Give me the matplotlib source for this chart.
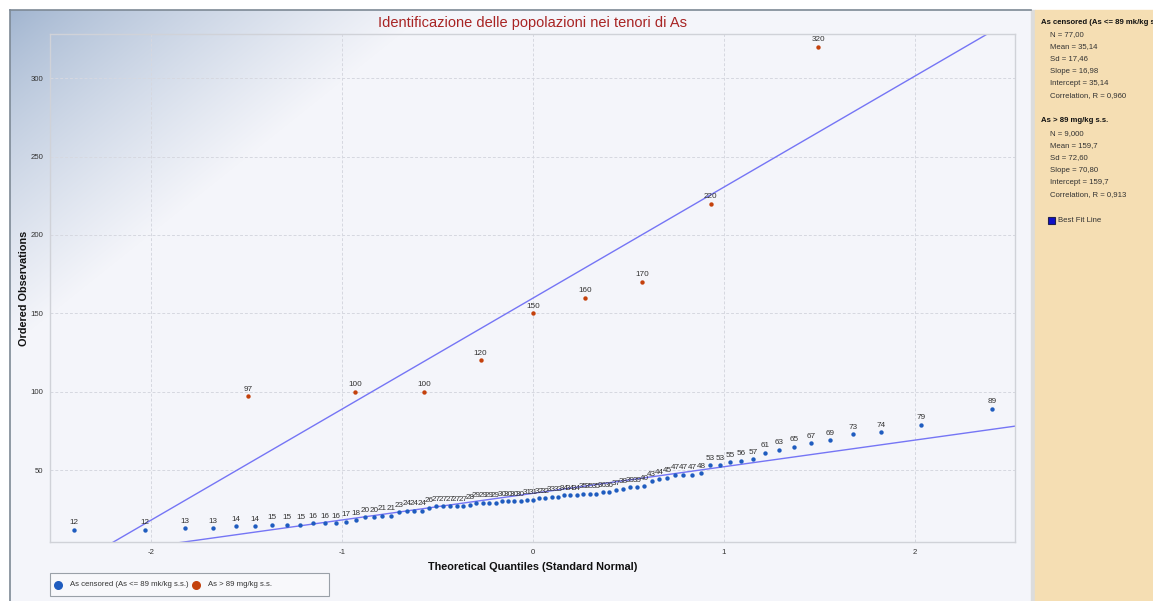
import matplotlib.pyplot as plt
import numpy as np
from matplotlib.patches import Rectangle
from statistics import NormalDist

plt.rcParams["font.family"] = ["Liberation Sans", "DejaVu Sans"]
plt.rcParams["axes.unicode_minus"] = False

# ---------------------------------------------
# Daten: As-Gehalte, sortiert, zwei Populationen
# ---------------------------------------------
as_low = [12, 12, 13, 13, 14, 14, 15, 15, 15, 16, 16, 16, 17, 18, 20, 20, 21, 21,
          23, 24, 24, 24, 26, 27, 27, 27, 27, 27,
          28, 29, 29, 29, 29, 30, 30, 30, 30, 31, 31, 32, 32, 33, 33, 34, 34, 34,
          35, 35, 35, 36, 36, 37, 38, 39, 39,
          40, 43, 44, 45, 47, 47, 47, 48, 53, 53, 55, 56, 57, 61, 63, 65, 67, 69,
          73, 74, 79, 89]
as_high = [97, 100, 100, 120, 150, 160, 170, 220, 320]

low_label = "As censored (As <= 89 mk/kg s.s.)"
high_label = "As > 89 mg/kg s.s."

# Regressionsgeraden (Slope, Intercept) aus der Statistik
low_fit = (16.98, 35.14)
high_fit = (70.80, 159.7)

low_stats = ["N = 77,00", "Mean = 35,14", "Sd = 17,46", "Slope = 16,98",
             "Intercept = 35,14", "Correlation, R = 0,960"]
high_stats = ["N = 9,000", "Mean = 159,7", "Sd = 72,60", "Slope = 70,80",
              "Intercept = 159,7", "Correlation, R = 0,913"]

x_ticks = [-2, -1, 0, 1, 2]
y_ticks = [50, 100, 150, 200, 250, 300]

BLUE = "#1f5cbf"
RED = "#c4410c"
LINE = "#7575f5"


def blom_quantiles(n):
    nd = NormalDist()
    return [nd.inv_cdf((i - 0.375) / (n + 0.25)) for i in range(1, n + 1)]


W, H = 1153, 601
fig = plt.figure(figsize=(W / 100, H / 100), dpi=100)

# ---------------------------------------------
# Hintergrund mit Farbverlauf
# ---------------------------------------------
bg = fig.add_axes([0, 0, 1, 1], zorder=-10)
bg.set_xlim(0, W)
bg.set_ylim(H, 0)
bg.axis("off")
xx, yy = np.meshgrid(np.arange(10, 1031), np.arange(10, H))
f = np.clip((xx - 10 + 1.25 * (yy - 10)) / 420.0, 0, 1) ** 0.8
c0 = np.array([160, 180, 207]) / 255.0
c1 = np.array([244, 245, 250]) / 255.0
grad = c0[None, None, :] * (1 - f[..., None]) + c1[None, None, :] * f[..., None]
bg.imshow(grad, extent=(10, 1031, H, 10), aspect="auto", interpolation="bilinear")
bg.plot([10, 1031], [10, 10], color="#7d8995", lw=1.2)
bg.plot([10, 10], [10, H], color="#7d8995", lw=1.2)

# Seitenleiste rechts
bg.add_patch(Rectangle((1031, 10), 4, H - 10, color="#dcdcdc"))
bg.add_patch(Rectangle((1035, 10), W - 1035, H - 10, color="#f5deb3"))

y = 22
bg.text(1041, y, low_label[:-2], fontsize=5.6, fontweight="bold",
        va="center", color="#111111")
for s in low_stats:
    y += 12.3
    bg.text(1050, y, s, fontsize=5.6, va="center", color="#333333")
y = 121
bg.text(1041, y, high_label, fontsize=5.6, fontweight="bold", va="center", color="#111111")
for s in high_stats:
    y += 12.3
    bg.text(1050, y, s, fontsize=5.6, va="center", color="#333333")
bg.add_patch(Rectangle((1048, 216.5), 7, 7, facecolor="#1010c8", edgecolor="#202050", lw=0.8))
bg.text(1058, 220, "Best Fit Line", fontsize=5.6, va="center", color="#333333")

# Legende unten
bg.add_patch(Rectangle((50, 573), 279, 23, facecolor="#f8f8fb", edgecolor="#9aa0a8", lw=0.8))
bg.scatter([58], [584.5], s=30, color=BLUE, zorder=3)
bg.text(70, 584.5, low_label, fontsize=5.6, va="center", color="#333333")
bg.scatter([196], [584.5], s=30, color=RED, zorder=3)
bg.text(208, 584.5, high_label, fontsize=5.6, va="center", color="#333333")

# ---------------------------------------------
# Q-Q-Plot
# ---------------------------------------------
ax = fig.add_axes([50 / W, (H - 542) / H, (1015 - 50) / W, (542 - 34) / H])
ax.set_facecolor("none")

q_low = blom_quantiles(len(as_low))
q_high = blom_quantiles(len(as_high))

xlim = (-2.53, 2.525)
ylim = (4.1, 328.2)
xs = np.array(xlim)
for slope, icpt in (high_fit, low_fit):
    ax.plot(xs, icpt + slope * xs, color=LINE, lw=1.0, zorder=2)

ax.scatter(q_low, as_low, s=10, color=BLUE, zorder=3, linewidths=0)
ax.scatter(q_high, as_high, s=10, color=RED, zorder=3, linewidths=0)
for qx, v in list(zip(q_low, as_low)) + list(zip(q_high, as_high)):
    ax.annotate(str(v), (qx, v), xytext=(0, 2.5), textcoords="offset points",
                ha="center", va="bottom", fontsize=5.9, color="#333333", zorder=4)

ax.set_xlim(*xlim)
ax.set_ylim(*ylim)
ax.set_xticks(x_ticks)
ax.set_yticks(y_ticks)
ax.tick_params(length=0, labelsize=5.6, labelcolor="#333333", pad=5)
ax.grid(True, color="#d6d8e0", lw=0.7, ls=(0, (3, 2)))
ax.set_axisbelow(True)
for sp in ax.spines.values():
    sp.set_color("#d0d2d8")
    sp.set_linewidth(1.0)

ax.set_title("Identificazione delle popolazioni nei tenori di As", fontsize=10.5,
             color="#a82424", pad=5)
ax.set_xlabel("Theoretical Quantiles (Standard Normal)", fontsize=7.8,
              fontweight="bold", color="#111111", labelpad=4)
ax.set_ylabel("Ordered Observations", fontsize=7.8, fontweight="bold",
              color="#111111", labelpad=1)

fig.savefig("out.png", dpi=100)
